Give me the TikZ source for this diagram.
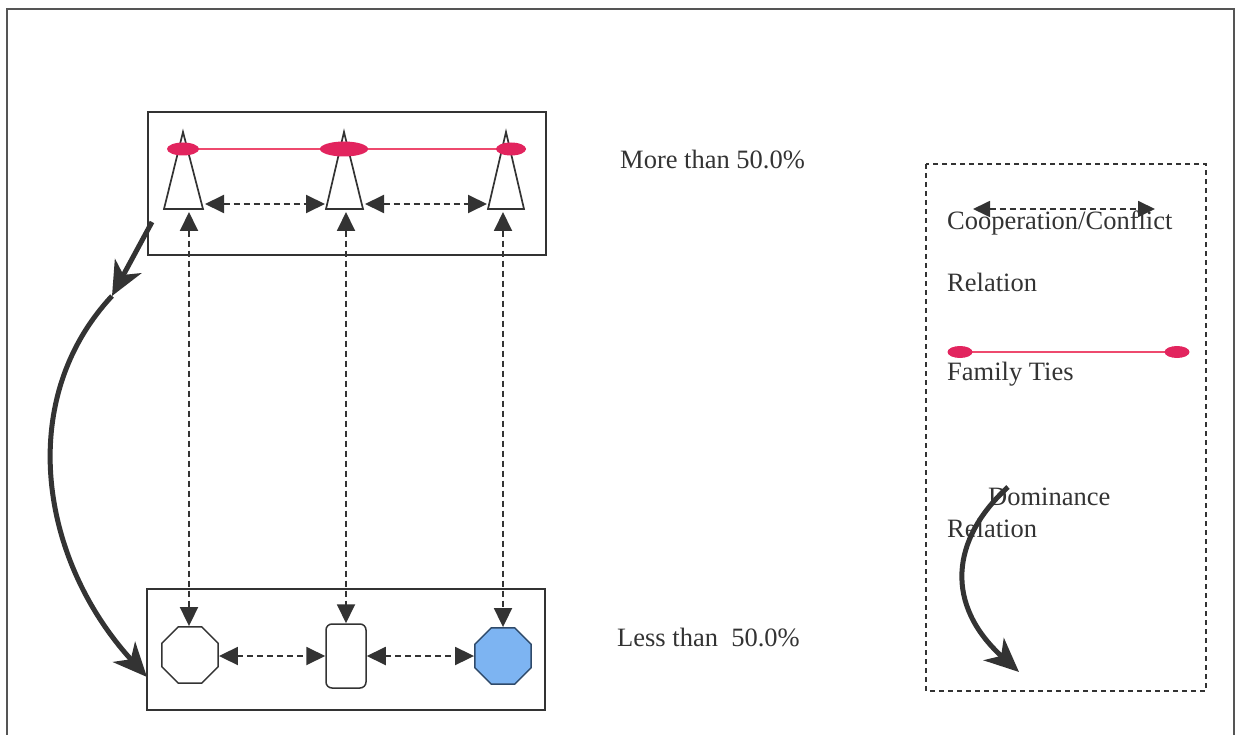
\documentclass[tikz,border=0pt]{standalone}
\usepackage{fontspec}
\setmainfont{Liberation Serif}
\usetikzlibrary{arrows.meta,shapes.geometric}
\definecolor{ink}{HTML}{333333}
\definecolor{frame}{HTML}{555555}
\definecolor{tie}{HTML}{EE4A6E}
\definecolor{blob}{HTML}{E2245E}
\definecolor{lblue}{HTML}{7DB4F2}
\definecolor{dblue}{HTML}{2F4A6A}
\tikzset{
  box/.style={draw=ink, line width=1.8pt},
  dar/.style={draw=ink, line width=1.9pt, dash pattern=on 6pt off 4pt,
    arrows={Triangle[length=19pt,width=18pt]-Triangle[length=19pt,width=18pt]}},
  ldar/.style={draw=ink, line width=1.8pt, dash pattern=on 6pt off 4pt,
    arrows={Triangle[length=17pt,width=16pt]-Triangle[length=17pt,width=16pt]}},
  thickarr/.style={draw=ink, line width=5pt, arrows={-Stealth[length=34pt,width=30pt,inset=10pt]}},
  tiestyle/.style={draw=tie, line width=1.8pt},
  blobst/.style={fill=blob, draw=none, ellipse, inner sep=0pt},
  lbl/.style={inner sep=0pt, anchor=base west, text=ink, font=\fontsize{26.5}{30}\selectfont},
  tri/.style={draw=ink, line width=1.7pt, fill=white, line join=miter},
}
\begin{document}
\begin{tikzpicture}[x=1pt,y=-1pt]
\useasboundingbox (0,0) rectangle (1242,735);
% outer frame
\draw[frame, line width=2pt] (7,745) -- (7,9) -- (1234,9) -- (1234,745);
% top box
\node[box, draw, inner sep=0pt, minimum width=398pt, minimum height=143pt] (topbox) at (347,183.5) {};
% bottom box
\node[box, draw, inner sep=0pt, minimum width=398pt, minimum height=121pt] (botbox) at (346,649.5) {};
% triangles
\draw[tri] (183,132) -- (203,209) -- (164,209) -- cycle;
\draw[tri] (344,132) -- (363,209) -- (326,209) -- cycle;
\draw[tri] (506,132) -- (524,209) -- (488,209) -- cycle;
% family ties
\draw[tiestyle] (172,149) -- (526,149);
\node[blobst, minimum width=32pt, minimum height=13pt] (b1) at (183,149) {};
\node[blobst, minimum width=48pt, minimum height=15pt] (b2) at (344,149) {};
\node[blobst, minimum width=30pt, minimum height=13pt] (b3) at (511,149) {};
% coordinates for connectors
\coordinate (t1r) at (205,204);
\coordinate (t2l) at (325,204);
\coordinate (t2r) at (365,204);
\coordinate (t3l) at (487,204);
\coordinate (t1b) at (189,212);
\coordinate (t2b) at (346,212);
\coordinate (t3b) at (503,212);
% bottom shapes
\node[regular polygon, regular polygon sides=8, minimum size=61pt, inner sep=0pt,
  draw=ink, line width=1.5pt, fill=white] (o1) at (190,655) {};
\node[rectangle, rounded corners=6pt, minimum width=40pt, minimum height=64pt, inner sep=0pt,
  draw=ink, line width=1.5pt, fill=white] (r2) at (346,656) {};
\node[regular polygon, regular polygon sides=8, minimum size=61pt, inner sep=0pt,
  draw=dblue, line width=1.5pt, fill=lblue] (o3) at (503,656) {};
% dashed relations
\draw[dar] (t1r) -- (t2l);
\draw[dar] (t2r) -- (t3l);
\draw[dar] (t1b) -- (t1b |- o1.north);
\draw[dar] (t2b) -- (r2.north);
\draw[dar] (t3b) -- (o3.north);
\draw[dar] (o1.east |- r2.west) -- (r2.west);
\draw[dar] (r2.east) -- (o3.west);
% dominance (left)
\coordinate (d0) at (152,222);
\coordinate (d1) at (112,296);
\coordinate (d2) at (147,677);
\draw[thickarr] (d0) -- (d1);
\draw[thickarr] (d1) .. controls (15,400) and (40,560) .. (d2);
% side labels
\node[lbl] (more) at (620,169) {More than 50.0\%};
\node[lbl] (less) at (617,646) {Less than\ \ 50.0\%};
% legend
\draw[ink, line width=1.5pt, dash pattern=on 5pt off 4pt] (926,164) rectangle (1206,691);
\coordinate (la) at (973,209);
\coordinate (lb) at (1155,209);
\draw[ldar] (la) -- (lb);
\node[lbl] (coop) at (947,230) {Cooperation/Conflict};
\node[lbl] (rel1) at (947,292) {Relation};
\draw[tiestyle] (950,352) -- (1186,352);
\node[blobst, minimum width=25pt, minimum height=12pt] (lb1) at (960,352) {};
\node[blobst, minimum width=25pt, minimum height=12pt] (lb2) at (1177,352) {};
\node[lbl] (fam) at (947,380) {Family Ties};
\node[lbl] (dom) at (988,505) {Dominance};
\node[lbl] (rel2) at (947,537) {Relation};
\coordinate (e0) at (1008,487);
\coordinate (e1) at (1019,672);
\draw[thickarr] (e0) .. controls (950,540) and (945,605) .. (e1);
\end{tikzpicture}
\end{document}
